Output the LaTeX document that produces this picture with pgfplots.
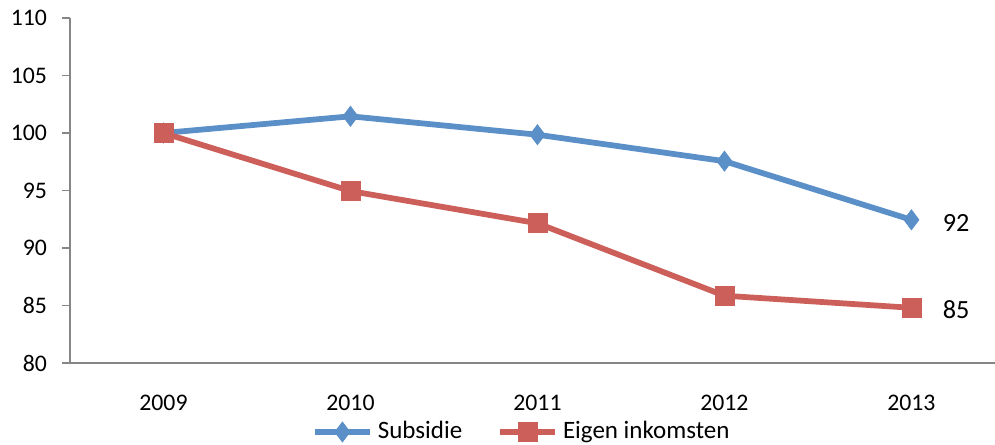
\documentclass[border=0pt]{standalone}
\usepackage{fontspec}
\setmainfont{Carlito}
\usepackage{pgfplots}
\pgfplotsset{compat=1.18}

\definecolor{subsblue}{HTML}{5A8FC8}
\definecolor{eigenred}{HTML}{CC5F59}
\definecolor{axisgray}{HTML}{868686}

\begin{document}
\begin{tikzpicture}[x=1pt,y=1pt]
\path[use as bounding box] (-28pt,-32.8pt) rectangle (370pt,145.2pt);
\begin{axis}[
    at={(0pt,0pt)}, anchor=south west,
    scale only axis,
    width=370pt, height=138pt,
    xmin=-0.5, xmax=4.447,
    ymin=80, ymax=110,
    ytick={80,85,...,110},
    xtick={0,1,2,3,4},
    xticklabels={2009,2010,2011,2012,2013},
    axis x line*=bottom, axis y line*=left,
    axis line style={axisgray, line width=0.5pt},
    tick align=outside,
    major tick length=3.2pt,
    major x tick style={draw=none},
    y tick style={axisgray, line width=0.5pt},
    extra x ticks={-0.5,0.5,1.5,2.5,3.5},
    extra x tick labels={},
    extra x tick style={major tick length=3.2pt, tick style={axisgray, line width=0.5pt}},
    /pgf/number format/assume math mode=true,
    ticklabel style={font=\fontsize{9.5}{11}\selectfont, black},
    yticklabel style={xshift=-2.5pt},
    xticklabel style={yshift=-6pt},
    clip=false,
    legend style={draw=none, fill=none, at={(0.49,-0.2)}, anchor=center,
        legend columns=2, font=\fontsize{10}{12}\selectfont,
        /tikz/every even column/.append style={column sep=12pt},
        inner sep=0pt},
    legend image code/.code={
        \draw[mark repeat=2,mark phase=2] plot coordinates {(0pt,0pt)(11pt,0pt)(22pt,0pt)};
    },
]
\addplot[subsblue, line width=2.3pt, mark=diamond*, mark size=4pt,
    mark options={solid, fill=subsblue, draw=subsblue, line width=0.3pt}]
    coordinates {(0,100)(1,101.45)(2,99.85)(3,97.55)(4,92.45)};
\addplot[eigenred, line width=2.3pt, mark=square*, mark size=3.8pt,
    mark options={solid, fill=eigenred, draw=eigenred, line width=0.3pt}]
    coordinates {(0,100)(1,94.95)(2,92.15)(3,85.85)(4,84.8)};
\legend{Subsidie, Eigen inkomsten}
\node[anchor=west, font=\fontsize{10.5}{12}\selectfont] at (axis cs:4,92.2) [xshift=9pt] {92};
\node[anchor=west, font=\fontsize{10.5}{12}\selectfont] at (axis cs:4,84.6) [xshift=9pt] {85};
\end{axis}
\end{tikzpicture}
\end{document}
